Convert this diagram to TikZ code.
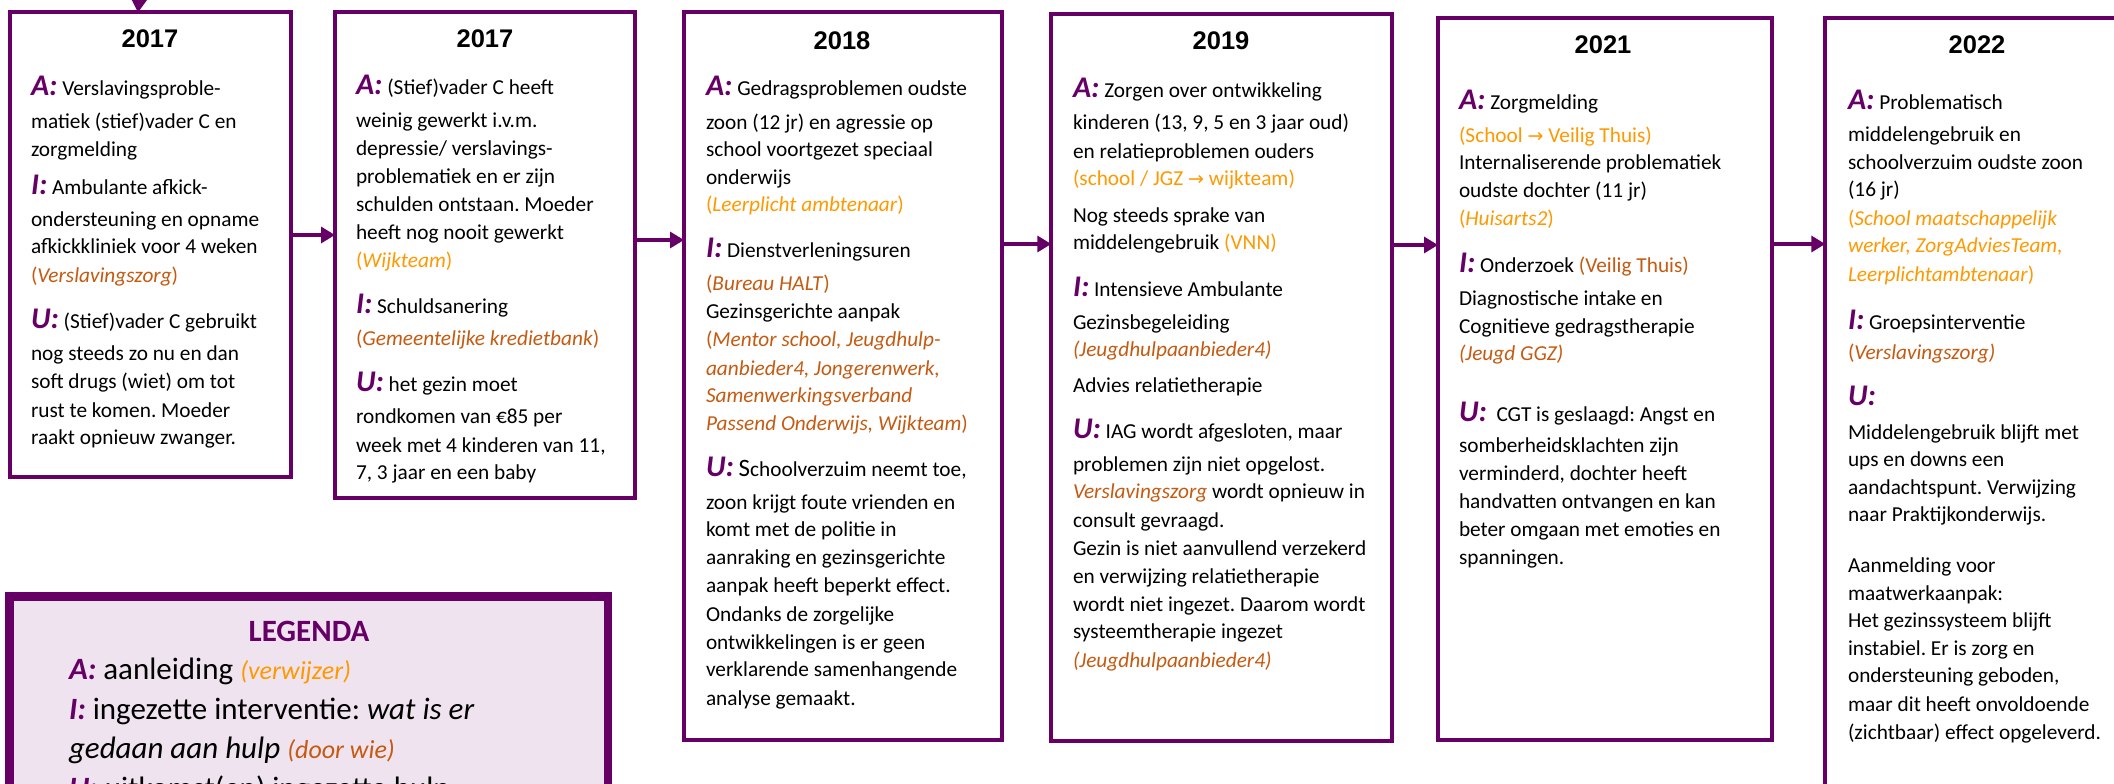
\documentclass[tikz,border=0pt]{standalone}
\usepackage{fontspec}
\setmainfont{Carlito}
\newfontfamily\yearfont{Liberation Sans}
\newfontfamily\symfont{DejaVu Sans}
\usetikzlibrary{arrows.meta}
\definecolor{pur}{RGB}{102,0,102}
\definecolor{lor}{RGB}{255,153,0}
\definecolor{dor}{RGB}{197,90,17}
\definecolor{legfill}{RGB}{239,227,239}
\frenchspacing
\newcommand\Lbl[1]{{\fontsize{30}{30}\selectfont\bfseries\itshape\color{pur}#1}}
\newcommand\OrL[1]{{\color{lor}#1}}
\newcommand\OrD[1]{{\color{dor}#1}}
\newcommand\rarr{{\symfont\fontsize{19}{19}\selectfont →}}
\tikzset{
  frame/.style={draw=pur, line width=4pt, fill=white, rectangle, inner sep=0pt, outer sep=0pt},
  legframe/.style={draw=pur, line width=8.5pt, fill=legfill, rectangle, inner sep=0pt, outer sep=0pt},
  txt/.style={anchor=base west, inner sep=0pt, outer sep=0pt, font=\fontsize{21.3}{28}\selectfont},
  legtxt/.style={anchor=base west, inner sep=0pt, outer sep=0pt, font=\fontsize{31}{39}\selectfont},
  yeartxt/.style={anchor=base, inner sep=0pt, outer sep=0pt, font=\yearfont\bfseries\fontsize{25.5}{30}\selectfont},
  arr/.style={draw=pur, line width=3.3pt, -{Triangle[length=14pt,width=16pt]}}
}
\begin{document}
\begin{tikzpicture}[x=1pt,y=-1pt]
\useasboundingbox[fill=white] (0,0) rectangle (2114,784);

% frames
\node[frame, minimum width=281pt, minimum height=464.5pt] (b1) at (150.5,244.75) {};
\node[frame, minimum width=300pt, minimum height=486.3pt] (b2) at (485,254.85) {};
\node[frame, minimum width=317.7pt, minimum height=728pt] (b3) at (842.85,376) {};
\node[frame, minimum width=340.7pt, minimum height=726.5pt] (b4) at (1221.65,377.75) {};
\node[frame, minimum width=334pt, minimum height=722.1pt] (b5) at (1605,378.65) {};
\node[frame, minimum width=304.7pt, minimum height=801.5pt] (b6) at (1977.65,419.25) {};
\node[legframe, minimum width=598.4pt, minimum height=233.5pt] (leg) at (308.8,713.25) {};

% connectors
\coordinate (topsrc) at (141,-25);
\coordinate (toptip) at (138,12.5);
\draw[arr] (topsrc) -- (toptip);
\draw[arr] (b1.east |- 0,235) -- (b2.west |- 0,235);
\draw[arr] (b2.east |- 0,240) -- (b3.west |- 0,240);
\draw[arr] (b3.east |- 0,244) -- (b4.west |- 0,244);
\draw[arr] (b4.east |- 0,245) -- (b5.west |- 0,245);
\draw[arr] (b5.east |- 0,244) -- (b6.west |- 0,244);

% years
\node[yeartxt] (y1) at (150,48) {2017};
\node[yeartxt] (y2) at (485,48) {2017};
\node[yeartxt] (y3) at (842,49) {2018};
\node[yeartxt] (y4) at (1221,49) {2019};
\node[yeartxt] (y5) at (1603,54) {2021};
\node[yeartxt] (y6) at (1977,54) {2022};

% box 1
\foreach \yy/\txtline [count=\i] in {
 95/{\Lbl{A:} Verslavingsproble-},
 128/{matiek (stief)vader C en},
 156/{zorgmelding},
 194/{\Lbl{I:} Ambulante afkick-},
 226/{ondersteuning en opname},
 253/{afkickkliniek voor 4 weken},
 282/{\OrD{(\textit{Verslavingszorg})}},
 328/{\Lbl{U:} (Stief)vader C gebruikt},
 360/{nog steeds zo nu en dan},
 388/{soft drugs (wiet) om tot},
 417/{rust te komen. Moeder},
 444/{raakt opnieuw zwanger.}}
 \node[txt] (b1t\i) at (31,\yy) {\txtline};

% box 2
\foreach \yy/\txtline [count=\i] in {
 94/{\Lbl{A:} (Stief)vader C heeft},
 127/{weinig gewerkt i.v.m.},
 155/{depressie/ verslavings-},
 183/{problematiek en er zijn},
 211/{schulden ontstaan. Moeder},
 239/{heeft nog nooit gewerkt},
 267/{\OrL{(\textit{Wijkteam})}},
 313/{\Lbl{I:} Schuldsanering},
 345/{\OrD{(\textit{Gemeentelijke kredietbank})}},
 391/{\Lbl{U:} het gezin moet},
 423/{rondkomen van €85 per},
 452/{week met 4 kinderen van 11,},
 479/{7, 3 jaar en een baby}}
 \node[txt] (b2t\i) at (356,\yy) {\txtline};

% box 3
\foreach \yy/\txtline [count=\i] in {
 95/{\Lbl{A:} Gedragsproblemen oudste},
 129/{zoon (12 jr) en agressie op},
 156/{school voortgezet speciaal},
 184/{onderwijs},
 211/{\OrL{(\textit{Leerplicht ambtenaar})}},
 257/{\Lbl{I:} Dienstverleningsuren},
 290/{\OrD{(\textit{Bureau HALT})}},
 318/{Gezinsgerichte aanpak},
 346/{\OrD{(\textit{Mentor school, Jeugdhulp-}}},
 375/{\OrD{\textit{aanbieder4, Jongerenwerk,}}},
 402/{\OrD{\textit{Samenwerkingsverband}}},
 430/{\OrD{\textit{Passend Onderwijs, Wijkteam})}},
 476/{\Lbl{U:} {\fontsize{25}{25}\selectfont S}choolverzuim neemt toe,},
 509/{zoon krijgt foute vrienden en},
 536/{komt met de politie in},
 564/{aanraking en gezinsgerichte},
 592/{aanpak heeft beperkt effect.},
 621/{Ondanks de zorgelijke},
 649/{ontwikkelingen is er geen},
 676/{verklarende samenhangende},
 705/{analyse gemaakt.}}
 \node[txt] (b3t\i) at (706,\yy) {\txtline};

% box 4
\foreach \yy/\txtline [count=\i] in {
 97/{\Lbl{A:} Zorgen over ontwikkeling},
 129/{kinderen (13, 9, 5 en 3 jaar oud)},
 158/{en relatieproblemen ouders},
 185/{\OrL{(school / JGZ \rarr{} wijkteam)}},
 222/{Nog steeds sprake van},
 249/{middelengebruik \OrL{(VNN)}},
 296/{\Lbl{I:} Intensieve Ambulante},
 329/{Gezinsbegeleiding},
 356/{\OrD{\textit{(Jeugdhulpaanbieder4)}}},
 392/{Advies relatietherapie},
 438/{\Lbl{U:} IAG wordt afgesloten, maar},
 471/{problemen zijn niet opgelost.},
 498/{\OrD{\textit{Verslavingszorg}} wordt opnieuw in},
 527/{consult gevraagd.},
 555/{Gezin is niet aanvullend verzekerd},
 583/{en verwijzing relatietherapie},
 611/{wordt niet ingezet. Daarom wordt},
 638/{systeemtherapie ingezet},
 667/{\OrD{\textit{(Jeugdhulpaanbieder4)}}}}
 \node[txt] (b4t\i) at (1073,\yy) {\txtline};

% box 5
\foreach \yy/\txtline [count=\i] in {
 109/{\Lbl{A:} Zorgmelding},
 142/{\OrL{(School \rarr{} Veilig Thuis)}},
 169/{Internaliserende problematiek},
 197/{oudste dochter (11 jr)},
 225/{\OrL{(\textit{Huisarts2})}},
 272/{\Lbl{I:} Onderzoek \OrD{(Veilig Thuis)}},
 305/{Diagnostische intake en},
 333/{Cognitieve gedragstherapie},
 360/{\OrD{\textit{(Jeugd GGZ)}}},
 421/{\Lbl{U:}\ \ CGT is geslaagd: Angst en},
 452/{somberheidsklachten zijn},
 480/{verminderd, dochter heeft},
 508/{handvatten ontvangen en kan},
 536/{beter omgaan met emoties en},
 564/{spanningen.}}
 \node[txt] (b5t\i) at (1459,\yy) {\txtline};

% box 6
\foreach \yy/\txtline [count=\i] in {
 109/{\Lbl{A:} Problematisch},
 141/{middelengebruik en},
 169/{schoolverzuim oudste zoon},
 196/{(16 jr)},
 225/{\OrL{(\textit{School maatschappelijk}}},
 252/{\OrL{\textit{werker, ZorgAdviesTeam,}}},
 281/{\OrL{\textit{Leerplichtambtenaar})}},
 329/{\Lbl{I:} Groepsinterventie},
 359/{\OrD{(\textit{Verslavingszorg)}}},
 405/{\Lbl{U:}},
 439/{Middelengebruik blijft met},
 466/{ups en downs een},
 494/{aandachtspunt. Verwijzing},
 521/{naar Praktijkonderwijs.},
 572/{Aanmelding voor},
 600/{maatwerkaanpak:},
 627/{Het gezinssysteem blijft},
 655/{instabiel. Er is zorg en},
 682/{ondersteuning geboden,},
 711/{maar dit heeft onvoldoende},
 739/{(zichtbaar) effect opgeleverd.}}
 \node[txt] (b6t\i) at (1848,\yy) {\txtline};

% legend
\node[anchor=base, inner sep=0pt, font=\bfseries\fontsize{31}{36}\selectfont, text=pur] (legtitle) at (309,641) {LEGENDA};
\node[legtxt] (leg1) at (69,679) {{\bfseries\itshape\color{pur}A:} aanleiding {\fontsize{26}{30}\selectfont\OrL{\textit{(verwijzer)}}}};
\node[legtxt] (leg2) at (69,719) {{\bfseries\itshape\color{pur}I:} ingezette interventie: \textit{wat is er}};
\node[legtxt] (leg3) at (69,758) {\textit{gedaan aan hulp} {\fontsize{26}{30}\selectfont\OrD{\textit{(door wie)}}}};
\node[legtxt] (leg4) at (69,798) {{\bfseries\itshape\color{pur}U:} uitkomst(en) ingezette hulp};
\end{tikzpicture}
\end{document}
